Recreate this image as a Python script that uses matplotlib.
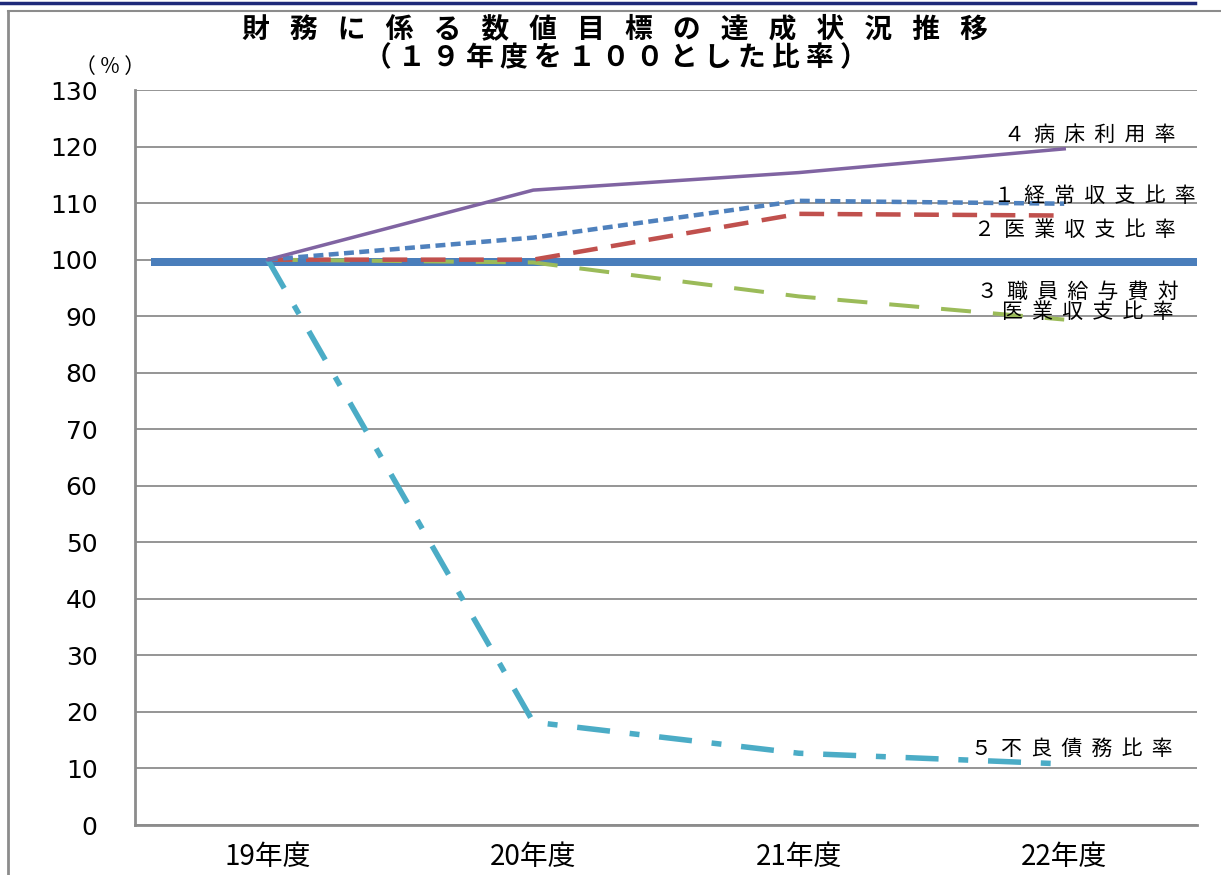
import matplotlib
matplotlib.use("Agg")
import matplotlib.pyplot as plt
from matplotlib.lines import Line2D

plt.rcParams['font.family'] = ['Noto Sans CJK JP', 'DejaVu Sans']

years = ["19年度", "20年度", "21年度", "22年度"]
keijo = [100, 103.9, 110.4, 109.9]       # 1経常収支比率
igyo = [100, 100.0, 108.1, 107.8]        # 2医業収支比率
kyuyo = [100, 99.5, 93.5, 89.4]          # 3職員給与費対医業収支比率
byosho = [100, 112.3, 115.4, 119.6]      # 4病床利用率
furyo = [100, 18.2, 12.7, 10.8]          # 5不良債務比率
base = 99.6                              # 基準線
yticks = list(range(0, 131, 10))


def spaced(s, sep):
    return sep.join(s)


fig = plt.figure(figsize=(12.21, 8.75), dpi=100)
ax = fig.add_axes([0.1106, 0.0571, 0.8697, 0.84])

x = list(range(len(years)))
px = 0.72  # points per pixel
ax.plot([-0.44, 3.5], [base, base], color='#4A7EBB', lw=8 * px, solid_capstyle='butt', zorder=2)
ax.plot(x, kyuyo, color='#9BBB59', lw=4 * px, dashes=(7.5, 5.5), zorder=3)
ax.plot(x, igyo, color='#C0504D', lw=4.5 * px, dashes=(5.5, 3), zorder=3)
ax.plot(x, keijo, color='#4F81BD', lw=4.5 * px, dashes=(2.2, 1.2), zorder=4)
ax.plot(x, byosho, color='#8064A2', lw=3.5 * px, zorder=4)
ax.plot(x, furyo, color='#4BACC6', lw=5.5 * px, dashes=(6, 3.6, 1.8, 3.6), zorder=3)

ax.set_xlim(-0.5, 3.5)
ax.set_ylim(0, 130)
ax.set_yticks(yticks)
ax.set_yticklabels([str(v) for v in yticks], family='DejaVu Sans', fontsize=18)
ax.set_xticks(x)
ax.set_xticklabels(years, fontsize=20)
ax.tick_params(axis='y', length=0, pad=27)
ax.tick_params(axis='x', length=0, pad=12)
ax.yaxis.grid(True, color='#8C8C8C', lw=1.3)
ax.set_axisbelow(True)
for s in ['top', 'right']:
    ax.spines[s].set_visible(False)
for s in ['left', 'bottom']:
    ax.spines[s].set_color('#8C8C8C')
    ax.spines[s].set_linewidth(2)

# series labels
lab = dict(fontsize=15, ha='right', va='center', zorder=5)
sep = "  "
ax.text(3.42, byosho[3] + 2.4, spaced("４病床利用率", sep), **lab)
ax.text(3.495, keijo[3] + 1.4, spaced("１経常収支比率", sep), **lab)
ax.text(3.42, igyo[3] - 2.6, spaced("２医業収支比率", sep), **lab)
ax.text(3.43, 94.3, spaced("３職員給与費対", sep), **lab)
ax.text(3.41, 90.8, spaced("医業収支比率", sep), **lab)
ax.text(3.41, furyo[3] + 2.7, spaced("５不良債務比率", sep), **lab)

fig.text(0.504, 0.967, spaced("財務に係る数値目標の達成状況推移", "\u2002 "), ha='center', va='center',
         fontsize=20, fontweight='bold')
fig.text(0.504, 0.933, spaced("（１９年度を１００とした比率）", " "), ha='center', va='center',
         fontsize=20, fontweight='bold')
fig.text(0.09, 0.923, "（ % ）", ha='center', va='center', fontsize=15)

# frame
fig.add_artist(Line2D([0, 0.979], [0.997, 0.997], color='#1F2A7A', lw=2.5, transform=fig.transFigure))
fig.add_artist(Line2D([0.0066, 0.0066], [0, 0.988], color='#8C8C8C', lw=2, transform=fig.transFigure))
fig.add_artist(Line2D([0.0066, 1], [0.988, 0.988], color='#8C8C8C', lw=1.5, transform=fig.transFigure))

fig.savefig("out.png", dpi=100)
